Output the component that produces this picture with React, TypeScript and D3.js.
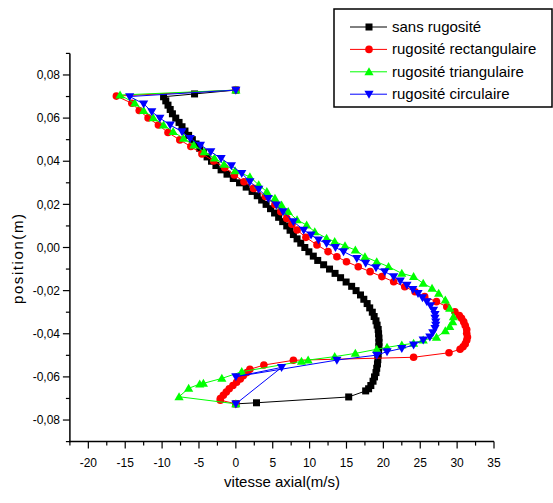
import React from 'react';
import * as d3 from 'd3';

const xTicks = [-20, -15, -10, -5, 0, 5, 10, 15, 20, 25, 30, 35];
const yTicks = [-0.08, -0.06, -0.04, -0.02, 0, 0.02, 0.04, 0.06, 0.08];
const seriesNames = ['sans rugosité', 'rugosité rectangulaire', 'rugosité triangulaire', 'rugosité circulaire'];
const seriesColors = ['#000000', '#ff0000', '#00ff00', '#0000ff'];
const seriesMarkers = ['square', 'circle', 'triUp', 'triDown'];

// sans rugosité: [vitesse, position]
const sansRugosite: [number, number][] = [
  [0, 0.073], [-5.6, 0.0712], [-9.8, 0.0699], [-9.5, 0.068], [-9.2, 0.066], [-8.9, 0.064], [-8.6, 0.062],
  [-8.15, 0.06], [-7.7, 0.058], [-7.3, 0.056], [-6.9, 0.054], [-6.4, 0.052], [-5.9, 0.05], [-5.4, 0.048],
  [-4.9, 0.046], [-4.4, 0.044], [-3.9, 0.042], [-3.3, 0.04], [-2.7, 0.038], [-2.0, 0.036], [-1.2, 0.034],
  [-0.35, 0.032], [0.5, 0.03], [1.4, 0.028], [2.2, 0.026], [2.9, 0.024], [3.5, 0.022], [4.1, 0.02],
  [4.7, 0.018], [5.25, 0.016], [5.8, 0.014], [6.35, 0.012], [6.9, 0.01], [7.35, 0.008], [7.8, 0.006],
  [8.3, 0.004], [8.8, 0.002], [9.35, 0.0], [9.9, -0.002], [10.5, -0.004], [11.1, -0.006], [11.9, -0.008],
  [12.7, -0.01], [13.45, -0.012], [14.2, -0.014], [14.95, -0.016], [15.7, -0.018], [16.3, -0.02],
  [16.9, -0.022], [17.35, -0.024], [17.8, -0.026], [18.15, -0.028], [18.5, -0.03], [18.75, -0.032],
  [19.0, -0.034], [19.15, -0.036], [19.3, -0.038], [19.35, -0.04], [19.4, -0.042], [19.4, -0.044],
  [19.4, -0.046], [19.35, -0.048], [19.3, -0.05], [19.25, -0.052], [19.2, -0.054], [19.1, -0.056],
  [19.0, -0.058], [18.8, -0.06], [18.6, -0.062], [18.3, -0.064], [18.0, -0.0655], [17.6, -0.0665],
  [15.3, -0.0693], [2.8, -0.072], [0, -0.0725],
];

const rugRectangulaire: [number, number][] = [
  [0, 0.073], [-16.2, 0.0702], [-14.1, 0.0669], [-13.1, 0.0635], [-11.9, 0.0601], [-10.5, 0.0568],
  [-9.2, 0.0533], [-7.6, 0.0499], [-6.1, 0.0468], [-4.6, 0.0434], [-3.0, 0.0401], [-1.5, 0.037],
  [-0.2, 0.0336], [1.1, 0.0305], [2.4, 0.0274], [4.0, 0.0236], [5.3, 0.0199], [6.1, 0.0166],
  [6.9, 0.0135], [7.6, 0.0108], [8.3, 0.0081], [9.5, 0.0047], [11.0, 0.0012], [12.5, -0.0019],
  [13.7, -0.0043], [15.0, -0.0066], [16.6, -0.0089], [18.2, -0.0112], [19.8, -0.0135], [21.4, -0.0159],
  [22.9, -0.0182], [24.3, -0.0205], [25.6, -0.0228], [27.2, -0.0251], [28.6, -0.0275], [29.7, -0.0298],
  [30.3, -0.0315], [30.6, -0.0328], [30.9, -0.0345], [31.1, -0.0362], [31.3, -0.038], [31.3, -0.0398],
  [31.4, -0.0415], [31.3, -0.043], [31.1, -0.0447], [30.8, -0.046], [30.4, -0.0472], [28.9, -0.0488],
  [24.1, -0.0509], [7.8, -0.0523], [3.8, -0.0545], [1.9, -0.0565], [1.5, -0.058], [1.0, -0.0595],
  [0.6, -0.061], [0.1, -0.0625], [-0.4, -0.064], [-0.9, -0.0655], [-1.3, -0.067], [-1.7, -0.0685],
  [-2.1, -0.07], [-2.1, -0.0708], [0, -0.0725],
];

const rugTriangulaire: [number, number][] = [
  [0, 0.073], [-15.7, 0.0707], [-13.7, 0.0669], [-12.5, 0.0635], [-11.2, 0.0601], [-9.8, 0.0568],
  [-8.5, 0.0537], [-7.1, 0.0506], [-5.7, 0.0475], [-4.3, 0.0444], [-2.9, 0.0414], [-1.6, 0.0386],
  [-0.1, 0.0355], [1.9, 0.0328], [3.1, 0.029], [4.2, 0.0259], [5.3, 0.0228], [6.2, 0.0197],
  [7.1, 0.0166], [8.3, 0.0128], [9.6, 0.0104], [10.7, 0.0073], [12.3, 0.0043], [13.4, 0.0027],
  [14.8, 0.0008], [16.2, -0.0012], [17.5, -0.0043], [19.1, -0.0066], [20.7, -0.0089], [22.5, -0.012],
  [24.1, -0.0135], [25.4, -0.0166], [26.6, -0.0189], [27.5, -0.0213], [28.4, -0.0244], [29.0, -0.0282],
  [29.5, -0.0321], [29.4, -0.0345], [29.0, -0.0367], [28.4, -0.0386], [27.2, -0.0417], [25.4, -0.0429],
  [24.1, -0.0444], [22.5, -0.0452], [20.5, -0.0463], [19.1, -0.0472], [16.2, -0.0491], [13.4, -0.0506],
  [9.8, -0.0522], [8.9, -0.0528], [0.8, -0.0576], [-1.9, -0.0607], [-4.4, -0.063], [-4.9, -0.0633],
  [-6.4, -0.0653], [-7.7, -0.0692], [0, -0.0725],
];

const rugCirculaire: [number, number][] = [
  [0, 0.073], [-14.4, 0.07], [-12.5, 0.0666], [-11.4, 0.063], [-10.3, 0.06], [-8.9, 0.0568],
  [-7.3, 0.0537], [-6.2, 0.0506], [-4.8, 0.0475], [-3.4, 0.0444], [-2.0, 0.0413], [-0.6, 0.038],
  [0.8, 0.0344], [1.9, 0.0305], [3.1, 0.027], [4.4, 0.0228], [5.5, 0.0197], [6.4, 0.0166],
  [7.8, 0.012], [9.2, 0.0081], [10.2, 0.0058], [11.2, 0.0035], [12.3, 0.0019], [13.5, 0.0],
  [14.6, -0.0019], [16.4, -0.005], [17.6, -0.0072], [19.0, -0.0093], [20.2, -0.0112], [21.4, -0.0135],
  [22.3, -0.0155], [23.2, -0.0174], [24.0, -0.0194], [24.7, -0.0213], [25.3, -0.0232], [25.9, -0.0251],
  [26.4, -0.027], [26.8, -0.029], [27.0, -0.031], [27.0, -0.0328], [27.1, -0.0345], [27.1, -0.036],
  [27.0, -0.0375], [26.7, -0.0395], [26.3, -0.0414], [25.4, -0.0429], [24.1, -0.0452], [22.5, -0.0468],
  [20.5, -0.0483], [19.1, -0.0499], [13.7, -0.0522], [0.0, -0.0599], [6.2, -0.0556], [0, -0.0725],
];

const allSeries = [sansRugosite, rugRectangulaire, rugTriangulaire, rugCirculaire];

const FONT = '"Liberation Sans", Arial, Helvetica, sans-serif';

function Marker({ kind, cx, cy, color }: { kind: string; cx: number; cy: number; color: string }) {
  if (kind === 'square') return <rect x={cx - 3.5} y={cy - 3.5} width={7} height={7} fill={color} />;
  if (kind === 'circle') return <circle cx={cx} cy={cy} r={3.8} fill={color} />;
  if (kind === 'triUp')
    return <path d={`M${cx},${cy - 4.6}L${cx + 4.6},${cy + 3.4}L${cx - 4.6},${cy + 3.4}Z`} fill={color} />;
  return <path d={`M${cx},${cy + 4.6}L${cx + 4.6},${cy - 3.4}L${cx - 4.6},${cy - 3.4}Z`} fill={color} />;
}

export default function App() {
  const W = 553, H = 503;
  const x = d3.scaleLinear().domain([-22.5, 35]).range([69.9, 494]);
  const y = d3.scaleLinear().domain([-0.09, 0.09]).range([441.6, 53.4]);
  const line = d3.line<[number, number]>().x(d => x(d[0])).y(d => y(d[1]));
  const xMinor = d3.range(-22.5, 35.01, 2.5);
  const yMinor = d3.range(-0.09, 0.0901, 0.01);
  const fmtY = (v: number) => (v < -1e-9 ? '-' : '') + Math.abs(v).toFixed(2).replace('.', ',');
  const x0 = x(-22.5), yb = y(-0.09);

  return (
    <svg width={W} height={H} style={{ position: 'absolute', left: 0, top: 0, background: '#fff' }} fontFamily={FONT}>
      <rect width={W} height={H} fill="#fff" />
      {/* axes */}
      <line x1={x0} x2={x0} y1={y(0.09)} y2={yb + 0.75} stroke="#000" strokeWidth={1.5} />
      <line x1={x0 - 0.75} x2={x(35)} y1={yb} y2={yb} stroke="#000" strokeWidth={1.5} />
      {xMinor.map((v, i) => (
        <line key={'xm' + i} x1={x(v)} x2={x(v)} y1={yb} y2={yb + (Math.abs(v % 5) < 1e-6 ? 7 : 4)} stroke="#000" strokeWidth={1.2} />
      ))}
      {yMinor.map((v, i) => {
        const major = Math.abs(Math.round(v * 100) % 2) === 0;
        return <line key={'ym' + i} x1={x0} x2={x0 - (major ? 7 : 4)} y1={y(v)} y2={y(v)} stroke="#000" strokeWidth={1.2} />;
      })}
      {xTicks.map(v => (
        <text key={'xt' + v} x={x(v)} y={467} fontSize={12} textAnchor="middle" fill="#000">{String(v)}</text>
      ))}
      {yTicks.map(v => (
        <text key={'yt' + v} x={60} y={y(v)} dy="0.35em" fontSize={12} textAnchor="end" fill="#000">{fmtY(v)}</text>
      ))}
      <text x={282} y={487} fontSize={15} textAnchor="middle" fill="#000">vitesse axial(m/s)</text>
      <text transform="translate(23,259) rotate(-90)" fontSize={15} textAnchor="middle" fill="#000" textLength={90} lengthAdjust="spacing">position(m)</text>

      {/* series */}
      {allSeries.map((s, i) => (
        <g key={'s' + i}>
          <path d={line(s) || ''} fill="none" stroke={seriesColors[i]} strokeWidth={1} />
          {s.map((d, j) => (
            <Marker key={j} kind={seriesMarkers[i]} cx={x(d[0])} cy={y(d[1])} color={seriesColors[i]} />
          ))}
        </g>
      ))}

      {/* legend */}
      <rect x={334} y={9} width={218} height={98} fill="#fff" stroke="#000" strokeWidth={1.5} />
      {seriesNames.map((name, i) => {
        const cy = 27 + i * 22.4;
        return (
          <g key={'lg' + i}>
            <line x1={350} x2={387} y1={cy} y2={cy} stroke={seriesColors[i]} strokeWidth={1} />
            <Marker kind={seriesMarkers[i]} cx={369} cy={cy} color={seriesColors[i]} />
            <text x={392} y={cy + 5} fontSize={15} fill="#000">{name}</text>
          </g>
        );
      })}
    </svg>
  );
}
